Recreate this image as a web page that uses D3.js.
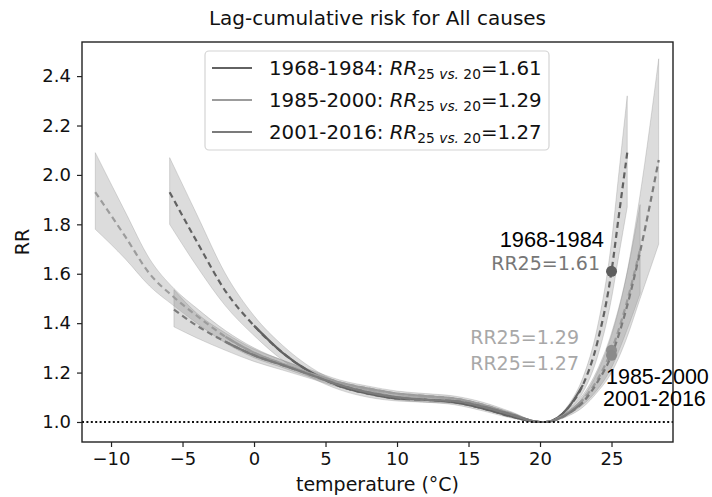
<!DOCTYPE html>
<html>
<head>
<meta charset="utf-8">
<script src="https://cdn.jsdelivr.net/npm/d3@7"></script>
<style>
  body { margin: 0; background: #fff; }
  svg { font-family: "DejaVu Sans", sans-serif; }
</style>
</head>
<body>
<div id="grafiekContainer"></div>
<script>

// data per periode (temperatuur, RR, ondergrens, bovengrens)
var periodes = ["1968-1984", "1985-2000", "2001-2016"];
var rr25 = [1.61, 1.29, 1.27];

var tempA = [-5.9, -4, -2, 0, 2, 4, 6, 8, 10, 12, 14, 16, 18, 20, 20.4, 22, 23, 24, 25, 25.5, 26.1];
var rrA   = [1.93, 1.73, 1.53, 1.39, 1.28, 1.20, 1.145, 1.115, 1.095, 1.09, 1.08, 1.055, 1.022, 1.0, 1.0, 1.06, 1.15, 1.32, 1.61, 1.83, 2.09];
var loA   = [1.80, 1.63, 1.47, 1.35, 1.25, 1.18, 1.13, 1.10, 1.085, 1.08, 1.07, 1.045, 1.016, 1.0, 1.0, 1.05, 1.12, 1.26, 1.50, 1.67, 1.87];
var hiA   = [2.07, 1.84, 1.60, 1.43, 1.31, 1.22, 1.16, 1.13, 1.105, 1.10, 1.09, 1.065, 1.028, 1.0, 1.0, 1.07, 1.18, 1.38, 1.73, 2.00, 2.32];

var tempB = [-11.1, -9, -7.3, -5.6, -4, -2, 0, 2, 4, 6, 8, 10, 12, 14, 16, 18, 20, 20.4, 22, 23, 24, 25, 26, 27];
var rrB   = [1.93, 1.75, 1.60, 1.505, 1.43, 1.345, 1.28, 1.235, 1.195, 1.16, 1.135, 1.115, 1.105, 1.095, 1.07, 1.033, 1.0, 1.0, 1.04, 1.09, 1.17, 1.29, 1.47, 1.70];
var loB   = [1.78, 1.66, 1.55, 1.47, 1.40, 1.32, 1.26, 1.22, 1.18, 1.15, 1.125, 1.105, 1.095, 1.085, 1.06, 1.025, 1.0, 1.0, 1.03, 1.07, 1.13, 1.22, 1.36, 1.52];
var hiB   = [2.09, 1.85, 1.66, 1.54, 1.46, 1.37, 1.30, 1.25, 1.21, 1.17, 1.145, 1.125, 1.115, 1.105, 1.08, 1.041, 1.0, 1.0, 1.05, 1.11, 1.21, 1.36, 1.58, 1.88];

var tempC = [-5.6, -4, -2, 0, 2, 4, 6, 8, 10, 12, 14, 16, 18, 20, 20.4, 22, 23, 24, 25, 26, 27, 28.3];
var rrC   = [1.455, 1.39, 1.325, 1.27, 1.23, 1.19, 1.15, 1.12, 1.10, 1.09, 1.085, 1.062, 1.03, 1.0, 1.0, 1.035, 1.08, 1.16, 1.27, 1.45, 1.69, 2.06];
var loC   = [1.385, 1.34, 1.29, 1.245, 1.21, 1.175, 1.14, 1.11, 1.09, 1.08, 1.075, 1.052, 1.022, 1.0, 1.0, 1.025, 1.06, 1.12, 1.20, 1.33, 1.50, 1.72];
var hiC   = [1.535, 1.44, 1.36, 1.295, 1.25, 1.205, 1.16, 1.13, 1.11, 1.10, 1.095, 1.072, 1.038, 1.0, 1.0, 1.045, 1.10, 1.20, 1.35, 1.58, 1.92, 2.47];

// bereik waarin de lijn doorgetrokken is (daarbuiten gestreept)
var doorgetrokken = [[0, 23], [-2, 23], [-2, 23]];

var xTicks = [-10, -5, 0, 5, 10, 15, 20, 25];
var yTicks = [1.0, 1.2, 1.4, 1.6, 1.8, 2.0, 2.2, 2.4];

var breedte = 712, hoogte = 497;
var marge = {boven: 42, beneden: 55, rechts: 39, links: 82};
var lijnKleuren = ["#626262", "#9c9c9c", "#7b7b7b"];

// zet de series om naar objecten
function maakSerie(t, rr, lo, hi) {
  return t.map(function(d, i) { return {t: d, rr: rr[i], lo: lo[i], hi: hi[i]}; });
}
var series = [maakSerie(tempA, rrA, loA, hiA), maakSerie(tempB, rrB, loB, hiB), maakSerie(tempC, rrC, loC, hiC)];

var svg = d3.select("#grafiekContainer")
            .append("svg")
            .attr("width", breedte)
            .attr("height", hoogte);

var x = d3.scaleLinear()
          .domain([-12.03, 29.3])
          .range([marge.links, breedte - marge.rechts]);

var y = d3.scaleLinear()
          .domain([0.919, 2.538])
          .range([hoogte - marge.beneden, marge.boven]);

// banden
var band = d3.area()
             .x(function(d) { return x(d.t); })
             .y0(function(d) { return y(d.lo); })
             .y1(function(d) { return y(d.hi); })
             .curve(d3.curveMonotoneX);

var lijn = d3.line()
             .x(function(d) { return x(d.t); })
             .y(function(d) { return y(d.rr); })
             .curve(d3.curveMonotoneX);

series.forEach(function(s) {
  svg.append("path")
     .attr("d", band(s))
     .attr("fill", "#8c8c8c")
     .attr("fill-opacity", 0.3)
     .attr("stroke", "#8c8c8c")
     .attr("stroke-opacity", 0.3)
     .attr("stroke-width", 1);
});

// lijnen: eerst gestreept over alles, dan doorgetrokken deel erover
series.forEach(function(s, i) {
  svg.append("path")
     .attr("d", lijn(s))
     .attr("fill", "none")
     .attr("stroke", lijnKleuren[i])
     .attr("stroke-width", 2.2)
     .attr("stroke-dasharray", "6,4");
  var midden = s.filter(function(d) {
    return d.t >= doorgetrokken[i][0] && d.t <= doorgetrokken[i][1];
  });
  svg.append("path")
     .attr("d", lijn(midden))
     .attr("fill", "none")
     .attr("stroke", lijnKleuren[i])
     .attr("stroke-width", 2.2);
});

// referentielijn RR = 1
svg.append("line")
   .attr("x1", x.range()[0])
   .attr("x2", x.range()[1])
   .attr("y1", y(1))
   .attr("y2", y(1))
   .attr("stroke", "#111")
   .attr("stroke-width", 2)
   .attr("stroke-dasharray", "2,2.4");

// punten bij 25 graden
var puntKleuren = ["#5e5e5e", "#8e8e8e", "#8a8a8a"];
rr25.forEach(function(v, i) {
  svg.append("circle")
     .attr("cx", x(25))
     .attr("cy", y(v))
     .attr("r", 5.5)
     .attr("fill", puntKleuren[i]);
});

// assen
var asX = d3.axisBottom(x).tickValues(xTicks).tickSize(5).tickPadding(5)
            .tickFormat(function(d) { return d < 0 ? "\u2212" + Math.abs(d) : d; });
var asY = d3.axisLeft(y).tickValues(yTicks).tickSize(5).tickPadding(6)
            .tickFormat(d3.format(".1f"));

svg.append("g")
   .attr("class", "xAs")
   .attr("transform", "translate(0," + (hoogte - marge.beneden) + ")")
   .call(asX);

svg.append("g")
   .attr("class", "yAs")
   .attr("transform", "translate(" + marge.links + ",0)")
   .call(asY);

svg.selectAll(".xAs, .yAs")
   .attr("font-family", null)
   .attr("font-size", null);
svg.selectAll(".xAs text, .yAs text")
   .style("font-family", "DejaVu Sans")
   .style("font-size", "18px")
   .attr("fill", "#111");
svg.selectAll(".domain").remove();
svg.selectAll(".tick line").attr("stroke", "#222").attr("stroke-width", 1.2);

// kader
svg.append("rect")
   .attr("x", x.range()[0])
   .attr("y", y.range()[1])
   .attr("width", x.range()[1] - x.range()[0])
   .attr("height", y.range()[0] - y.range()[1])
   .attr("fill", "none")
   .attr("stroke", "#222")
   .attr("stroke-width", 1.4);

// titels
svg.append("text")
   .attr("x", (x.range()[0] + x.range()[1]) / 2)
   .attr("y", 25)
   .attr("text-anchor", "middle")
   .style("font-size", "20px")
   .attr("fill", "#111")
   .text("Lag-cumulative risk for All causes");

svg.append("text")
   .attr("x", (x.range()[0] + x.range()[1]) / 2)
   .attr("y", 491)
   .attr("text-anchor", "middle")
   .style("font-size", "19px")
   .attr("fill", "#111")
   .text("temperature (\u00B0C)");

svg.append("text")
   .attr("transform", "rotate(-90)")
   .attr("x", -242)
   .attr("y", 29)
   .attr("text-anchor", "middle")
   .style("font-size", "19px")
   .attr("fill", "#111")
   .text("RR");

// legenda
var legenda = svg.append("g");
legenda.append("rect")
       .attr("x", 205)
       .attr("y", 51)
       .attr("width", 344)
       .attr("height", 99)
       .attr("rx", 4)
       .attr("fill", "#fff")
       .attr("fill-opacity", 0.85)
       .attr("stroke", "#d4d4d4")
       .attr("stroke-width", 1.2);

periodes.forEach(function(p, i) {
  var ly = 68 + i * 32;
  legenda.append("line")
         .attr("x1", 212).attr("x2", 252)
         .attr("y1", ly).attr("y2", ly)
         .attr("stroke", lijnKleuren[i])
         .attr("stroke-width", 2.2);
  var t = legenda.append("text")
                 .attr("x", 269)
                 .attr("y", ly + 7)
                 .style("font-size", "19.8px")
                 .attr("fill", "#111");
  t.append("tspan").text(p + ": ");
  t.append("tspan").style("font-style", "italic").text("RR");
  var sub = t.append("tspan").style("font-size", "13.8px").attr("dy", 4);
  sub.append("tspan").text("25 ");
  sub.append("tspan").style("font-style", "italic").text("vs.");
  sub.append("tspan").text(" 20");
  t.append("tspan").attr("dy", -4).text("=" + d3.format(".2f")(rr25[i]));
});

// annotaties
function notitie(tx, ty, anker, lettertype, grootte, kleur, tekst) {
  svg.append("text")
     .attr("x", tx).attr("y", ty)
     .attr("text-anchor", anker)
     .style("font-family", lettertype)
     .style("font-size", grootte)
     .attr("fill", kleur)
     .text(tekst);
}

notitie(604, 247, "end", "Liberation Sans", "21.8px", "#000", periodes[0]);
notitie(600, 270, "end", "DejaVu Sans", "19px", "#777", "RR25=" + d3.format(".2f")(rr25[0]));
notitie(579, 344, "end", "DejaVu Sans", "19px", "#a8a8a8", "RR25=" + d3.format(".2f")(rr25[1]));
notitie(579, 370, "end", "DejaVu Sans", "19px", "#a8a8a8", "RR25=" + d3.format(".2f")(rr25[2]));
notitie(606, 384, "start", "Liberation Sans", "21.5px", "#000", periodes[1]);
notitie(603, 406, "start", "Liberation Sans", "21.5px", "#000", periodes[2]);

</script>
</body>
</html>
